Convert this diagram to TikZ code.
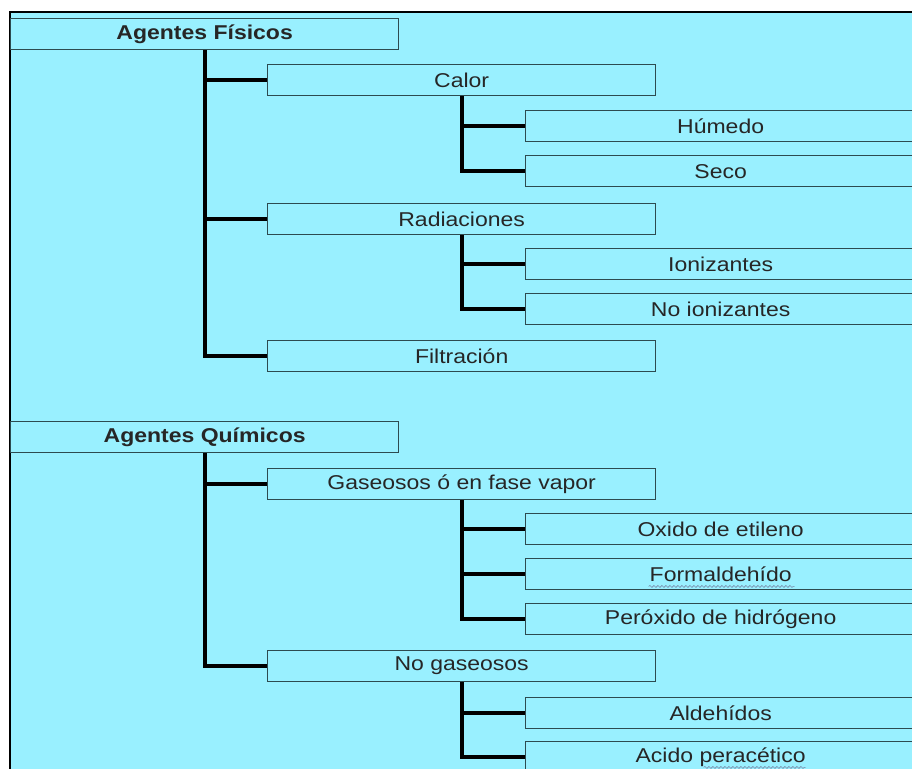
\documentclass[tikz,border=0pt]{standalone}
\usepackage{fontspec}
\setmainfont{Liberation Sans}[FakeStretch=1.15]
\usepackage{tikz}
\usetikzlibrary{calc, decorations.pathmorphing}

\definecolor{bgcyan}{RGB}{153,240,255}
\definecolor{boxline}{RGB}{45,75,80}
\definecolor{squiggle}{RGB}{120,140,170}

\begin{document}
\begin{tikzpicture}[x=1pt, y=-1pt,
        box/.style={draw=boxline, line width=1.3pt, fill=bgcyan, anchor=north west, inner sep=0pt,
            minimum width=388pt, minimum height=31pt, text=black!85, font=\fontsize{20}{24}\selectfont},
        topbox/.style={box, font=\fontsize{20}{24}\selectfont\bfseries},
        leafbox/.style={box, minimum width=390pt},
        branch/.style={line width=3.7pt, line join=miter},
        wavy/.style={draw=squiggle, line width=0.6pt, decorate, decoration={snake, amplitude=1pt, segment length=4pt}}]

        \path[use as bounding box, clip] (0,0) rectangle (912,768);

        % Background
        \fill[bgcyan] (10,12.5) rectangle (920,780);
        \draw[line width=2pt] (10,780) -- (10,12.5) -- (920,12.5);

        % Nodes
        \node [topbox] (fis) at (10,18) {Agentes Físicos};
        \node [box] (calor) at (267,64) {Calor};
        \node [leafbox] (humedo) at (525,110) {Húmedo};
        \node [leafbox] (seco) at (525,155) {Seco};
        \node [box] (radia) at (267,203) {Radiaciones};
        \node [leafbox] (ioniz) at (525,248) {Ionizantes};
        \node [leafbox] (noioniz) at (525,293) {No ionizantes};
        \node [box] (filtra) at (267,340) {Filtración};

        \node [topbox] (quim) at (10,421) {Agentes Químicos};
        \node [box] (gaseo) at (267,468) {Gaseosos ó en fase vapor};
        \node [leafbox] (oxido) at (525,513) {Oxido de etileno};
        \node [leafbox] (formal) at (525,558) {Formaldehído};
        \node [leafbox] (perox) at (525,603) {Peróxido de hidrógeno};
        \node [box] (nogas) at (267,650) {No gaseosos};
        \node [leafbox] (aldeh) at (525,697) {Aldehídos};
        \node [leafbox] (acido) at (525,741) {Acido peracético};

        % Connectors
        \foreach \child in {calor, radia, filtra}
            \draw [branch] (fis.south) |- (\child.west);
        \foreach \child in {humedo, seco}
            \draw [branch] (calor.south) |- (\child.west);
        \foreach \child in {ioniz, noioniz}
            \draw [branch] (radia.south) |- (\child.west);
        \foreach \child in {gaseo, nogas}
            \draw [branch] (quim.south) |- (\child.west);
        \foreach \child in {oxido, formal, perox}
            \draw [branch] (gaseo.south) |- (\child.west);
        \foreach \child in {aldeh, acido}
            \draw [branch] (nogas.south) |- (\child.west);

        % Spelling marks
        \draw [wavy] ($(formal.base)+(-72,5)$) -- ($(formal.base)+(74,5)$);
        \draw [wavy] ($(acido.base)+(-17,5)$) -- ($(acido.base)+(85,5)$);
\end{tikzpicture}
\end{document}
